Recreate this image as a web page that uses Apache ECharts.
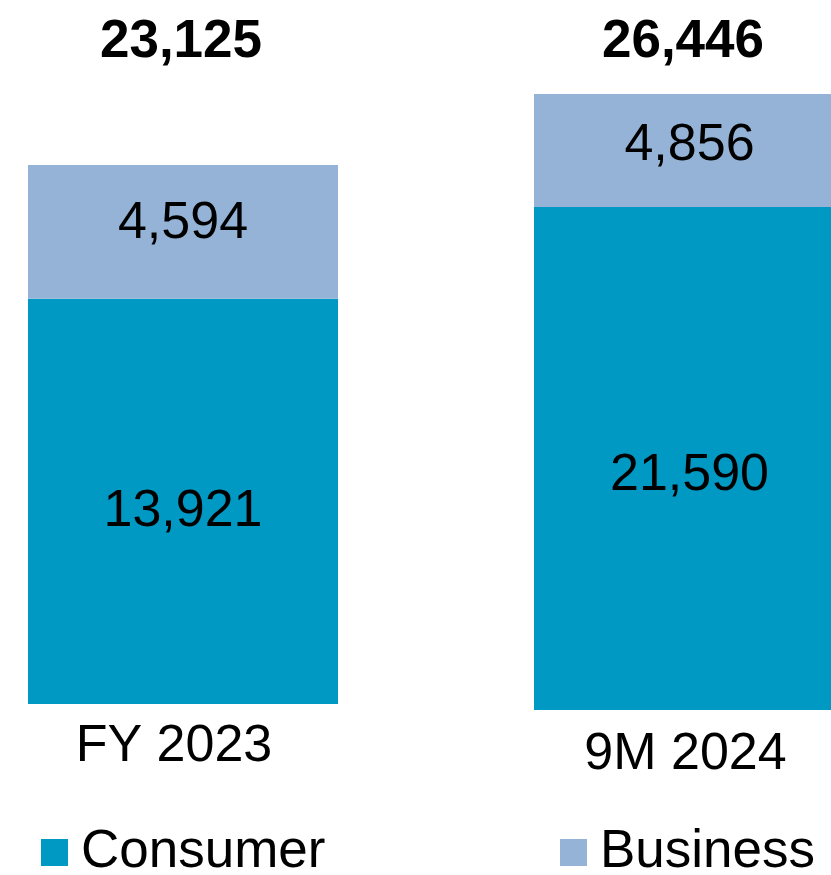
<!DOCTYPE html>
<html>
<head>
<meta charset="utf-8">
<script src="https://cdn.jsdelivr.net/npm/echarts@6/dist/echarts.min.js"></script>
<style>
  html, body { margin: 0; padding: 0; background: #fff; }
  #main { width: 831px; height: 875px; }
</style>
</head>
<body>
<div id="main"></div>
<script>
// data
var categories = ['FY 2023', '9M 2024'];
var consumer = [13921, 21590];
var business = [4594, 4856];
var totals = [23125, 26446];

var FONT = "'Liberation Sans', Arial, sans-serif";
var C_CONSUMER = '#0099c4';
var C_BUSINESS = '#95b3d7';

function fmt(v) {
    return v.toLocaleString('en-US');
}

var myChart = echarts.init(document.getElementById('main'));

// two separate little charts side by side, like in the source slide
var grids = [
    { left: 28, top: 165, width: 310, height: 539 },
    { left: 534, top: 94, width: 310, height: 616 }
];
var catPad = [[0, 18, 0, 0], [0, 0, 0, 6]];   // nudge category labels
var catMargin = [17, 19];
var consOff = [[0, 10], [7, 17]];
var busOff = [[0, -8], [7, -5]];
var totalX = [181, 683];

var xAxes = [], yAxes = [], series = [], graphics = [];
categories.forEach(function (cat, i) {
    xAxes.push({
        gridIndex: i,
        type: 'category',
        data: [cat],
        axisLine: { show: false },
        axisTick: { show: false },
        axisLabel: {
            margin: catMargin[i],
            fontSize: 52,
            fontFamily: FONT,
            color: '#000',
            padding: catPad[i]
        }
    });
    yAxes.push({
        gridIndex: i,
        type: 'value',
        min: 0,
        max: consumer[i] + business[i],
        show: false,
        splitLine: { show: false }
    });
    series.push({
        name: 'Consumer',
        type: 'bar',
        stack: 's' + i,
        xAxisIndex: i,
        yAxisIndex: i,
        barWidth: 310,
        data: [consumer[i]],
        itemStyle: { color: C_CONSUMER },
        label: {
            show: true,
            position: 'inside',
            offset: consOff[i],
            fontSize: 52,
            fontFamily: FONT,
            color: '#000',
            formatter: function (p) { return fmt(p.value); }
        }
    });
    series.push({
        name: 'Business',
        type: 'bar',
        stack: 's' + i,
        xAxisIndex: i,
        yAxisIndex: i,
        barWidth: 310,
        data: [business[i]],
        itemStyle: { color: C_BUSINESS },
        label: {
            show: true,
            position: 'inside',
            offset: busOff[i],
            fontSize: 52,
            fontFamily: FONT,
            color: '#000',
            formatter: function (p) { return fmt(p.value); }
        }
    });
    graphics.push({
        type: 'text',
        x: totalX[i],
        y: 42,
        style: {
            text: fmt(totals[i]),
            fontSize: 53,
            fontWeight: 'bold',
            fontFamily: FONT,
            fill: '#000',
            align: 'center',
            verticalAlign: 'middle'
        }
    });
});

var legendCommon = {
    top: 826,
    padding: 0,
    icon: 'rect',
    itemWidth: 27,
    itemHeight: 27,
    selectedMode: false,
    textStyle: {
        fontSize: 53,
        fontFamily: FONT,
        color: '#000',
        padding: [0, 0, 0, 8]
    }
};

option = {
    animation: false,
    backgroundColor: '#fff',
    grid: grids,
    xAxis: xAxes,
    yAxis: yAxes,
    legend: [
        Object.assign({ left: 41, data: ['Consumer'] }, legendCommon),
        Object.assign({ left: 560, data: ['Business'] }, legendCommon)
    ],
    graphic: graphics,
    series: series
};
myChart.setOption(option);
</script>
</body>
</html>
